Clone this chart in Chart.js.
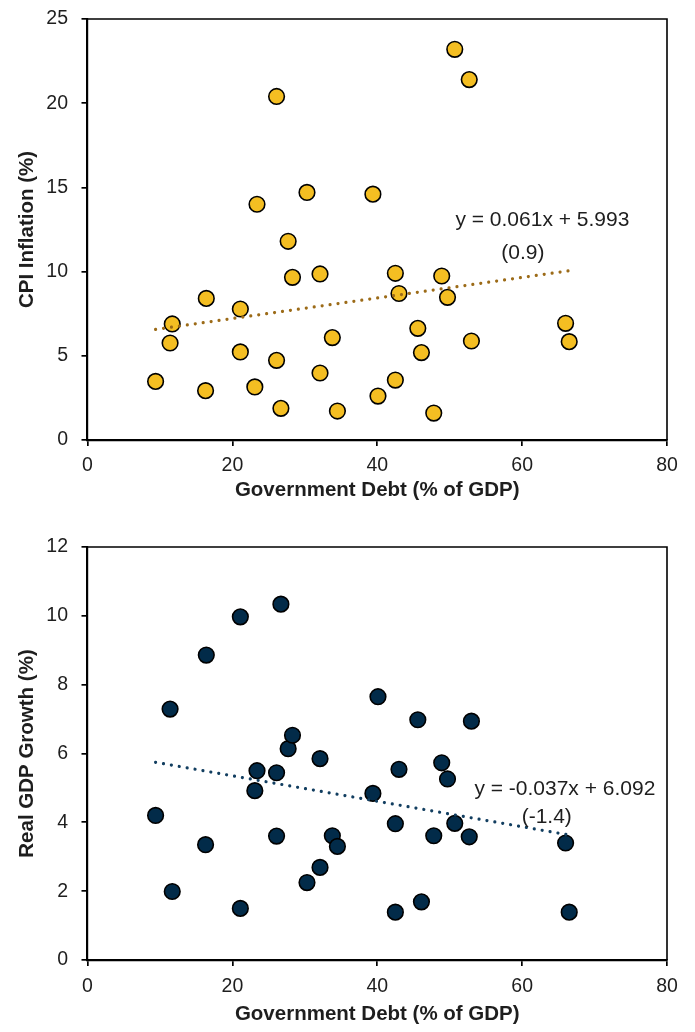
<!DOCTYPE html>
<html>
<head>
<meta charset="utf-8">
<script src="https://cdn.jsdelivr.net/npm/chart.js@4.4.1/dist/chart.umd.min.js"></script>
<style>
  html, body { margin: 0; padding: 0; background: #ffffff; }
  .wrap { width: 695px; height: 516px; position: relative; }
  canvas { display: block; }
</style>
</head>
<body>
<div class="wrap"><canvas id="top" width="695" height="516"></canvas></div>
<div class="wrap"><canvas id="bottom" width="695" height="516"></canvas></div>
<script>
// ---- Data ----
const debt = [9.4, 11.4, 11.7, 16.3, 16.4, 21.1, 21.1, 23.1, 23.4, 26.1, 26.1, 26.7, 27.7, 28.3, 30.3, 32.1, 32.1,
              33.8, 34.5, 39.4, 40.1, 42.5, 42.5, 43.0, 45.6, 46.1, 47.8, 48.9, 49.7, 50.7, 52.7, 53.0, 66.0, 66.5];
const inflation = [3.48, 5.76, 6.89, 2.93, 8.41, 7.78, 5.23, 3.15, 14.0, 20.4, 4.73, 1.88, 11.8, 9.66, 14.7, 9.86, 3.98,
                   6.08, 1.72, 14.6, 2.61, 9.9, 3.56, 8.7, 6.63, 5.19, 1.6, 9.74, 8.47, 23.2, 21.4, 5.88, 6.93, 5.84];
const growth = [4.2, 7.29, 1.99, 3.35, 8.86, 9.97, 1.5, 4.92, 5.5, 5.44, 3.6, 10.34, 6.14, 6.53, 2.25, 5.85, 2.69,
                3.61, 3.3, 4.84, 7.65, 3.96, 1.39, 5.54, 6.98, 1.69, 3.61, 5.73, 5.26, 3.97, 3.58, 6.94, 3.4, 1.39];
const inflationFit = [0.061, 5.993];   // slope, intercept
const growthFit = [-0.037, 6.092];
const inflationFitText = ['y = 0.061x + 5.993', '(0.9)'];
const growthFitText = ['y = -0.037x + 6.092', '(-1.4)'];
const xTitle = 'Government Debt (% of GDP)';
const yTitleTop = 'CPI Inflation (%)';
const yTitleBottom = 'Real GDP Growth (%)';

const FONT = "'Liberation Sans', Arial, Helvetica, sans-serif";
const TEXT = '#1e1e1e';

function fitLine(fit) {
  const lo = Math.min(...debt), hi = Math.max(...debt);
  return [lo, hi].map(x => ({ x: x, y: fit[0] * x + fit[1] }));
}

const boxPlugin = {
  id: 'boxPlugin',
  afterDatasetsDraw(chart, args, opts) {
    const { ctx, chartArea: a, scales } = chart;
    ctx.save();
    ctx.strokeStyle = '#000';
    ctx.lineWidth = 1.6;
    ctx.beginPath();
    ctx.moveTo(a.left, a.top);
    ctx.lineTo(a.right, a.top);
    ctx.lineTo(a.right, a.bottom);
    ctx.stroke();
    // fit label
    ctx.fillStyle = TEXT;
    ctx.font = '21px ' + FONT;
    ctx.textAlign = 'center';
    ctx.textBaseline = 'middle';
    opts.labels.forEach(l => {
      ctx.fillText(l.text, scales.x.getPixelForValue(l.x), scales.y.getPixelForValue(l.y));
    });
    ctx.restore();
  }
};

function makeChart(id, yValues, fit, fitText, yMax, yStep, yTitle, fillColor, lineColor, cfg) {
  const pts = debt.map((x, i) => ({ x: x, y: yValues[i] }));
  return new Chart(document.getElementById(id), {
    type: 'scatter',
    data: {
      datasets: [
        {
          data: fitLine(fit),
          showLine: true,
          borderColor: lineColor,
          borderWidth: 3.2,
          borderDash: [0.01, 8],
          borderCapStyle: 'round',
          pointRadius: 0,
          order: 0
        },
        {
          data: pts,
          backgroundColor: fillColor,
          borderColor: '#000000',
          borderWidth: 1.6,
          pointRadius: 7.8,
          pointHoverRadius: 7.8,
          order: 1
        }
      ]
    },
    options: {
      responsive: false,
      animation: false,
      devicePixelRatio: 1,
      layout: { padding: { top: cfg.padTop, right: 28, left: 0, bottom: 0 } },
      plugins: {
        legend: { display: false },
        tooltip: { enabled: false },
        boxPlugin: { labels: cfg.labels }
      },
      scales: {
        x: {
          type: 'linear',
          min: 0, max: 80,
          ticks: { stepSize: 20, color: TEXT, font: { family: FONT, size: 19.5 }, padding: cfg.xTickPad, maxRotation: 0 },
          grid: { drawOnChartArea: false, drawTicks: true, tickLength: 6, color: '#000', lineWidth: 1.7 },
          border: { display: true, color: '#000', width: 2.2 },
          title: { display: true, text: xTitle, color: TEXT, font: { family: FONT, size: 20.5, weight: 'bold' },
                   padding: { top: 0, bottom: cfg.xTitlePad } },
          afterFit(scale) { scale.height = cfg.xHeight; }
        },
        y: {
          type: 'linear',
          min: 0, max: yMax,
          ticks: { stepSize: yStep, color: TEXT, font: { family: FONT, size: 19.5 }, padding: 13.5 },
          grid: { drawOnChartArea: false, drawTicks: true, tickLength: 6, color: '#000', lineWidth: 1.7 },
          border: { display: true, color: '#000', width: 2.2 },
          title: { display: true, text: yTitle, color: TEXT, font: { family: FONT, size: 20.5, weight: 'bold' },
                   padding: { top: 14.7, bottom: 0 } },
          afterFit(scale) { scale.width = 87.5; scale.paddingTop = 0; scale.paddingBottom = 0; }
        }
      }
    },
    plugins: [boxPlugin]
  });
}

makeChart('top', inflation, inflationFit, inflationFitText, 25, 5, yTitleTop, '#F4BE22', '#9C6B18', {
  padTop: 19, xHeight: 76, xTickPad: 8, xTitlePad: 13,
  labels: [
    { text: inflationFitText[0], x: 62.8, y: 13.06 },
    { text: inflationFitText[1], x: 60.1, y: 11.1 }
  ]
});
makeChart('bottom', growth, growthFit, growthFitText, 12, 2, yTitleBottom, '#022B49', '#123E60', {
  padTop: 31, xHeight: 72, xTickPad: 9, xTitlePad: 5,
  labels: [
    { text: growthFitText[0], x: 65.9, y: 4.96 },
    { text: growthFitText[1], x: 63.4, y: 4.16 }
  ]
});
</script>
</body>
</html>
